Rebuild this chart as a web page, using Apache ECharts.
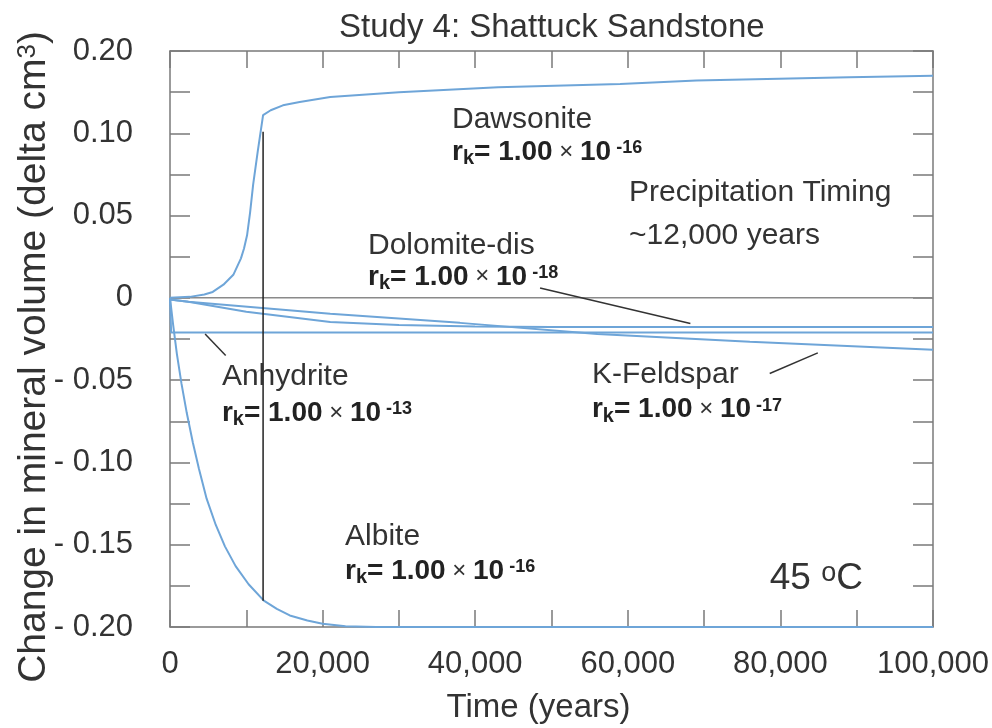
<!DOCTYPE html>
<html>
<head>
<meta charset="utf-8">
<script src="https://cdn.jsdelivr.net/npm/echarts@6/dist/echarts.min.js"></script>
<style>
  html, body { margin: 0; padding: 0; background: #ffffff; }
  #chart { width: 992px; height: 728px; }
</style>
</head>
<body>
<div id="chart"></div>
<script>
// ---- data: time in years, change in mineral volume in delta cm3 ----
const dawsonite = [[0, 0], [2600, 0.0006], [4500, 0.002], [5600, 0.0036], [7000, 0.008], [8300, 0.014],
  [9300, 0.024], [9700, 0.030], [10100, 0.038], [10500, 0.052], [10900, 0.069], [11500, 0.089],
  [12200, 0.111], [13200, 0.114], [14800, 0.117], [17000, 0.119], [21000, 0.122], [30000, 0.125],
  [43000, 0.128], [59000, 0.130], [69000, 0.132], [89000, 0.134], [100000, 0.135]];
const albite = [[0, 0], [400, -0.016], [900, -0.034], [1500, -0.052], [2200, -0.070], [3000, -0.088],
  [3800, -0.104], [4800, -0.122], [6000, -0.138], [7200, -0.151], [8600, -0.163], [10300, -0.174],
  [12300, -0.184], [14000, -0.189], [15700, -0.193], [18000, -0.196], [20000, -0.198], [23000, -0.1995],
  [27000, -0.2], [100000, -0.2]];
const anhydrite = [[0, 0], [150, -0.021], [100000, -0.021]];
const dolomiteDis = [[0, -0.001], [2400, -0.0024], [10000, -0.0085], [21000, -0.0146], [30000, -0.0165],
  [40000, -0.0174], [50000, -0.0177], [100000, -0.0177]];
const kFeldspar = [[0, -0.001], [2400, -0.0024], [21000, -0.0097], [38000, -0.0152], [56000, -0.0219],
  [76000, -0.0267], [100000, -0.0316]];
const zeroLine = [[0, 0], [100000, 0]];
const timingMarker = [[12200, 0.101], [12200, -0.184]];
const anhydritePointer = [[4600, -0.022], [7300, -0.035]];
const dolomitePointer = [[48500, 0.006], [68200, -0.0156]];
const kFeldsparPointer = [[78600, -0.046], [84900, -0.0334]];

// axis ticks and labels
const xMin = 0, xMax = 100000, xTickStep = 10000, xLabelStep = 20000;
const xTickLabels = ['0', '20,000', '40,000', '60,000', '80,000', '100,000'];
const yMin = -0.2, yMax = 0.15, yTickStep = 0.025, yLabelStep = 0.05;
const yTickLabels = ['- 0.20', '- 0.15', '- 0.10', '- 0.05', '0', '0.05', '0.10', '0.20'];

const FONT = '"Liberation Sans", Arial, Helvetica, sans-serif';
const AXIS_GREY = '#7a7a7a';
const CURVE_BLUE = '#6ea5d8';
const TEXT = '#333333';

function pickLabel(v, min, step, labels) {
  const k = (v - min) / step;
  const r = Math.round(k);
  return Math.abs(k - r) < 1e-6 ? (labels[r] || '') : '';
}

const frameLine = { show: true, onZero: false, lineStyle: { color: AXIS_GREY, width: 1.5 } };
const xTicks = { show: true, inside: true, length: 17, lineStyle: { color: AXIS_GREY, width: 1.5 } };
const yTicks = { show: true, inside: true, length: 20, lineStyle: { color: AXIS_GREY, width: 1.5 } };

const chart = echarts.init(document.getElementById('chart'), null, { renderer: 'canvas' });

function line(name, data, color, width) {
  return {
    name, type: 'line', data, xAxisIndex: 0, yAxisIndex: 0,
    showSymbol: false, symbol: 'none', silent: true,
    lineStyle: { color, width }
  };
}

chart.setOption({
  animation: false,
  backgroundColor: '#ffffff',
  title: {
    text: 'Study 4: Shattuck Sandstone',
    left: 334, top: 6,
    textStyle: { fontFamily: FONT, fontSize: 33, fontWeight: 'normal', color: TEXT }
  },
  grid: { left: 170, top: 51, right: 59, bottom: 101, containLabel: false, outerBoundsMode: 'none' },
  xAxis: [
    {
      type: 'value', min: xMin, max: xMax, interval: xTickStep, position: 'bottom',
      name: 'Time (years)', nameLocation: 'middle', nameGap: 64,
      nameTextStyle: { fontFamily: FONT, fontSize: 33, color: TEXT, padding: [0, 26, 0, 0] },
      axisLine: frameLine, axisTick: xTicks, splitLine: { show: false },
      axisLabel: {
        show: true, margin: 22, fontFamily: FONT, fontSize: 31, color: TEXT,
        formatter: v => pickLabel(v, xMin, xLabelStep, xTickLabels)
      }
    },
    {
      type: 'value', min: xMin, max: xMax, interval: xTickStep, position: 'top',
      axisLine: frameLine, axisTick: xTicks, splitLine: { show: false },
      axisLabel: { show: false }
    }
  ],
  yAxis: [
    {
      type: 'value', min: yMin, max: yMax, interval: yTickStep, position: 'left',
      name: 'Change in mineral volume (delta cm{sup|3})', nameLocation: 'middle', nameGap: 116,
      nameMoveOverlap: false,
      nameTextStyle: {
        fontFamily: FONT, fontSize: 39, color: TEXT, padding: [0, 36, 0, 0],
        rich: { sup: { fontFamily: FONT, fontSize: 26, color: TEXT, verticalAlign: 'top', lineHeight: 26 } }
      },
      axisLine: frameLine, axisTick: yTicks, splitLine: { show: false },
      axisLabel: {
        show: true, margin: 37, fontFamily: FONT, fontSize: 31, color: TEXT,
        formatter: v => pickLabel(v, yMin, yLabelStep, yTickLabels)
      }
    },
    {
      type: 'value', min: yMin, max: yMax, interval: yTickStep, position: 'right',
      axisLine: frameLine, axisTick: yTicks, splitLine: { show: false },
      axisLabel: { show: false }
    }
  ],
  series: [
    line('zero', zeroLine, '#8a8a8a', 1.5),
    line('Anhydrite', anhydrite, CURVE_BLUE, 2),
    line('Dolomite-dis', dolomiteDis, CURVE_BLUE, 2),
    line('K-Feldspar', kFeldspar, CURVE_BLUE, 2),
    line('Dawsonite', dawsonite, CURVE_BLUE, 2),
    line('Albite', albite, CURVE_BLUE, 2),
    line('timing', timingMarker, '#222222', 1.5),
    line('anhydrite-pointer', anhydritePointer, '#333333', 1.5),
    line('dolomite-pointer', dolomitePointer, '#333333', 1.5),
    line('kfeldspar-pointer', kFeldsparPointer, '#333333', 1.5)
  ]
});

// ---- text annotations anchored in data space ----
const rateRich = {
  b: { fontFamily: FONT, fontSize: 28, fontWeight: 'bold', fill: '#222222', lineHeight: 34 },
  sub: { fontFamily: FONT, fontSize: 20, fontWeight: 'bold', fill: '#222222', lineHeight: 12, verticalAlign: 'bottom' },
  x: { fontFamily: FONT, fontSize: 24, fill: '#333333', lineHeight: 34 },
  sup: { fontFamily: FONT, fontSize: 18, fontWeight: 'bold', fill: '#222222', lineHeight: 18, verticalAlign: 'top', padding: [4, 0, 0, 0] }
};
const rate = exp => '{b|r}{sub|k}{b|= 1.00}{x| × }{b|10}{sup| ' + exp + '}';

const notes = [
  { at: [36960, 0.108], text: 'Dawsonite' },
  { at: [36960, 0.0887], text: rate('-16'), rich: true },
  { at: [60160, 0.0640], text: 'Precipitation Timing' },
  { at: [60160, 0.0375], text: '~12,000 years' },
  { at: [25950, 0.0316], text: 'Dolomite-dis' },
  { at: [25950, 0.0128], text: rate('-18'), rich: true },
  { at: [6800, -0.048], text: 'Anhydrite' },
  { at: [6800, -0.0699], text: rate('-13'), rich: true },
  { at: [55300, -0.0468], text: 'K-Feldspar' },
  { at: [55300, -0.068], text: rate('-17'), rich: true },
  { at: [22940, -0.1452], text: 'Albite' },
  { at: [22940, -0.1659], text: rate('-16'), rich: true },
  { at: [78600, -0.1706], text: '{t|45 }{o|o}{t|C}', temp: true }
];

const graphics = notes.map(n => {
  const p = chart.convertToPixel({ xAxisIndex: 0, yAxisIndex: 0 }, n.at);
  const style = { text: n.text, x: 0, y: 0, align: 'left', verticalAlign: 'middle' };
  if (n.rich) {
    style.rich = rateRich;
  } else if (n.temp) {
    style.rich = {
      t: { fontFamily: FONT, fontSize: 37, fill: TEXT, lineHeight: 40 },
      o: { fontFamily: FONT, fontSize: 27, fill: TEXT, lineHeight: 27, verticalAlign: 'top', padding: [1, 0, 0, 0] }
    };
  } else {
    style.fontFamily = FONT;
    style.fontSize = 30;
    style.fill = TEXT;
  }
  return { type: 'text', x: p[0], y: p[1], silent: true, z: 10, style };
});

chart.setOption({ graphic: graphics });
</script>
</body>
</html>
